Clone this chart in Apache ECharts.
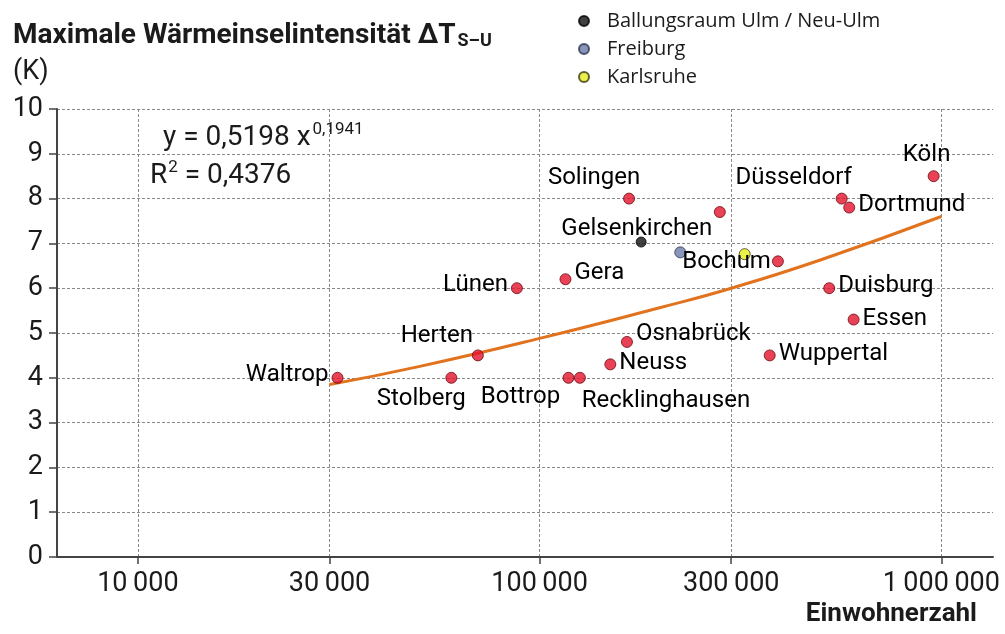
<!DOCTYPE html>
<html>
<head>
<meta charset="utf-8">
<script src="https://cdn.jsdelivr.net/npm/echarts@6/dist/echarts.min.js"></script>
<style>
  html, body { margin: 0; padding: 0; background: #ffffff; }
  #main { width: 1005px; height: 634px; }
</style>
</head>
<body>
<div id="main"></div>
<script>
// Städte (rote Punkte)
var cities = ['Waltrop', 'Stolberg', 'Herten', 'Lünen', 'Bottrop', 'Recklinghausen', 'Gera', 'Neuss',
    'Osnabrück', 'Solingen', 'Gelsenkirchen', 'Bochum', 'Wuppertal', 'Duisburg', 'Düsseldorf',
    'Dortmund', 'Essen', 'Köln'];
var population = [31400, 60300, 70200, 87800, 118000, 126000, 116000, 150000,
    165000, 167000, 281000, 392000, 374000, 526000, 565000,
    590000, 605000, 957000];
var intensity = [4.0, 4.0, 4.5, 6.0, 4.0, 4.0, 6.2, 4.3,
    4.8, 8.0, 7.7, 6.6, 4.5, 6.0, 8.0,
    7.8, 5.3, 8.5];

// Vergleichsstädte
var ulm = [179000, 7.03];
var freiburg = [224000, 6.8];
var karlsruhe = [324000, 6.76];

// Trendlinie
var trendX = [30000, 50000, 100000, 200000, 300000, 500000, 1000000];
var trendY = [3.85, 4.25, 4.88, 5.57, 6.0, 6.63, 7.6];

var xTicks = [10000, 30000, 100000, 300000, 1000000];

var labelFont = 'Roboto';
var ink = '#1b1b1b';

// Beschriftungspositionen: [position, dx, dy]
var placement = {
    'Waltrop': ['left', 0, -3],
    'Stolberg': ['bottom', -30, 0],
    'Herten': ['top', -41, 2],
    'Lünen': ['left', 0, -3],
    'Bottrop': ['bottom', -48, -2],
    'Recklinghausen': ['bottom', 86, 2],
    'Gera': ['right', 0, -6],
    'Neuss': ['right', 0, -1],
    'Osnabrück': ['right', 0, -8],
    'Solingen': ['top', -35, 0],
    'Gelsenkirchen': ['bottom', -83, -4],
    'Bochum': ['left', 2, 1],
    'Wuppertal': ['right', 0, -1],
    'Duisburg': ['right', 0, -2],
    'Düsseldorf': ['top', -48, 0],
    'Dortmund': ['right', 0, -3],
    'Essen': ['right', 0, -1],
    'Köln': ['top', -7, 0]
};

function fmtNum(v) {
    return String(Math.round(v)).replace(/\B(?=(\d{3})+(?!\d))/g, '\u2009');
}

var cityData = cities.map(function (name, i) {
    var p = placement[name];
    return {
        name: name,
        value: [population[i], intensity[i]],
        label: {
            show: true,
            position: p[0],
            offset: [p[1], p[2]],
            distance: 3,
            color: '#000',
            opacity: 1,
            fontFamily: labelFont,
            fontSize: 24,
            formatter: '{b}'
        }
    };
});

var trendData = trendX.map(function (x, i) { return [x, trendY[i]]; });

var chart = echarts.init(document.getElementById('main'));

var option = {
    animation: false,
    backgroundColor: '#ffffff',
    textStyle: { fontFamily: labelFont },
    title: {
        left: 8,
        top: 12,
        text: '{b|Maximale Wärmeinselintensität ΔT}{s|S–U}\n{n|(K)}',
        textStyle: {
            fontWeight: 'normal',
            rich: {
                b: { fontFamily: labelFont, fontWeight: 'bold', fontSize: 28, color: ink, lineHeight: 37 },
                s: { fontFamily: labelFont, fontWeight: 'bold', fontSize: 18, color: ink, padding: [12, 0, 0, 2] },
                n: { fontFamily: labelFont, fontWeight: 'normal', fontSize: 27, color: ink, lineHeight: 37 }
            }
        }
    },
    legend: {
        orient: 'vertical',
        left: 573,
        top: 6,
        itemWidth: 20,
        itemHeight: 10,
        itemGap: 8,
        textStyle: { fontFamily: 'Open Sans', fontSize: 20, color: ink, padding: [0, 0, 0, 8] },
        data: ['Ballungsraum Ulm / Neu-Ulm', 'Freiburg', 'Karlsruhe']
    },
    grid: { left: 57, right: 12, top: 109, bottom: 77, containLabel: false, outerBoundsMode: 'none' },
    xAxis: {
        type: 'log',
        logBase: 10,
        min: 6290,
        max: 1345000,
        name: 'Einwohnerzahl',
        nameLocation: 'end',
        nameGap: -16,
        nameMoveOverlap: false,
        nameTextStyle: {
            fontFamily: labelFont, fontWeight: 'bold', fontSize: 26, color: ink,
            align: 'right', verticalAlign: 'top', padding: [44, 0, 0, 0]
        },
        axisLine: { lineStyle: { color: '#444', width: 2 } },
        axisTick: { show: true, length: 7, customValues: xTicks, lineStyle: { color: '#444', width: 1.5 } },
        axisLabel: {
            customValues: xTicks,
            fontFamily: labelFont, fontSize: 27, color: ink, margin: 14,
            formatter: function (v) { return fmtNum(v); }
        },
        splitLine: { show: true, lineStyle: { color: '#888', type: [3, 2], width: 1 } },
        minorSplitLine: { show: false }
    },
    yAxis: {
        type: 'value',
        min: 0,
        max: 10,
        interval: 1,
        axisLine: { show: true, lineStyle: { color: '#444', width: 2 } },
        axisTick: { show: true, length: 8, lineStyle: { color: '#444', width: 1.5 } },
        axisLabel: { fontFamily: labelFont, fontSize: 27, color: ink, margin: 14 },
        splitLine: { show: true, lineStyle: { color: '#888', type: [3, 2], width: 1 } }
    },
    series: [
        {
            name: 'Trend',
            type: 'line',
            data: trendData,
            smooth: true,
            showSymbol: false,
            lineStyle: { color: '#E2731E', width: 3 },
            z: 2
        },
        {
            name: 'Städte',
            type: 'scatter',
            data: cityData,
            symbolSize: 11,
            itemStyle: { color: '#E3122C', borderColor: '#6a0a10', borderWidth: 1 },
            label: { fontFamily: labelFont, fontSize: 24, color: '#000' },
            z: 3
        },
        {
            name: 'Ballungsraum Ulm / Neu-Ulm',
            type: 'scatter',
            data: [ulm],
            symbolSize: 10,
            itemStyle: { color: '#111111', borderColor: '#000', borderWidth: 1 },
            z: 3
        },
        {
            name: 'Freiburg',
            type: 'scatter',
            data: [freiburg],
            symbolSize: 11,
            itemStyle: { color: '#6B7BAA', borderColor: '#2a3350', borderWidth: 1 },
            z: 3
        },
        {
            name: 'Karlsruhe',
            type: 'scatter',
            data: [karlsruhe],
            symbolSize: 11,
            itemStyle: { color: '#E6EE1E', borderColor: '#3a3a10', borderWidth: 1 },
            z: 3
        }
    ],
    graphic: [
        {
            type: 'text',
            left: 163,
            top: 121,
            style: {
                text: '{t|y = 0,5198 x}{e|0,1941}',
                rich: {
                    t: { fontFamily: labelFont, fontSize: 28, fill: ink },
                    e: { fontFamily: labelFont, fontSize: 17, fill: ink, padding: [0, 0, 16, 2] }
                }
            }
        },
        {
            type: 'text',
            left: 150,
            top: 159,
            style: {
                text: '{t|R}{e|2}{t| = 0,4376}',
                rich: {
                    t: { fontFamily: labelFont, fontSize: 28, fill: ink },
                    e: { fontFamily: labelFont, fontSize: 17, fill: ink, padding: [0, 0, 16, 1] }
                }
            }
        }
    ]
};

chart.setOption(option);
</script>
</body>
</html>
